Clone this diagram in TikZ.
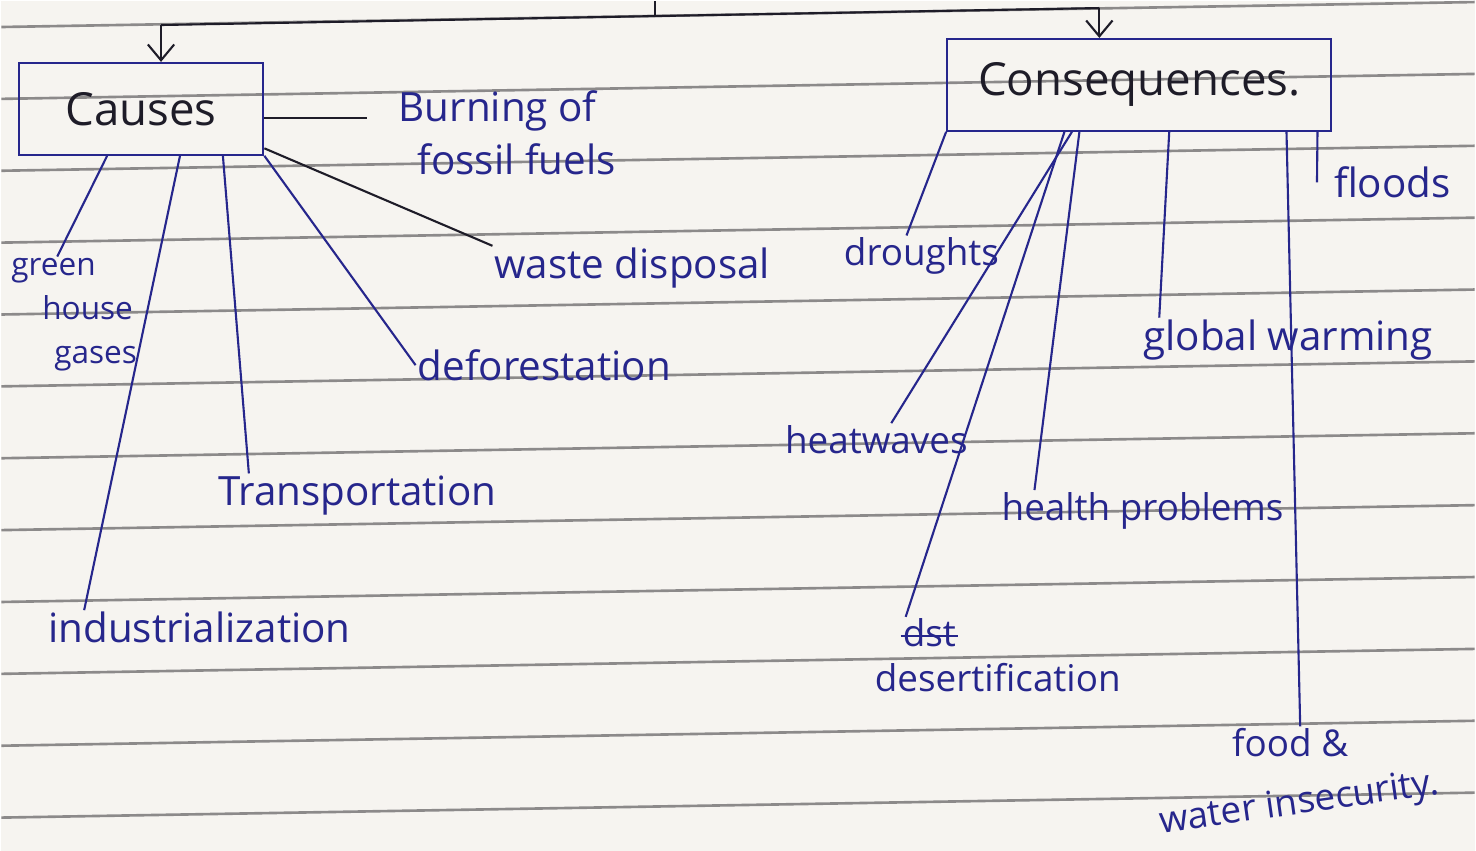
\documentclass[tikz,border=0pt]{standalone}
\usepackage{fontspec}
\setmainfont{Open Sans}
\usetikzlibrary{arrows.meta}

\definecolor{ink}{RGB}{38,38,140}
\definecolor{pencil}{RGB}{30,28,40}
\definecolor{paper}{RGB}{246,244,240}
\definecolor{ruling}{RGB}{140,138,138}

\begin{document}
\begin{tikzpicture}[x=0.02cm, y=-0.02cm,
  pen/.style={ink, line width=1.2pt},
  lead/.style={pencil, line width=1.2pt},
  downarrow/.style={lead, -{Straight Barb[length=9pt, width=15pt]}},
  title/.style={draw=ink, line width=1.2pt, text=pencil, inner sep=0pt,
    minimum width=4.9cm, minimum height=1.84cm, font=\fontsize{26}{30}\selectfont},
  item/.style={text=ink, inner sep=1pt, anchor=base west, font=\fontsize{23}{30}\selectfont},
  tight/.style={item, font=\fontsize{21}{30}\selectfont},
  multi/.style={item, anchor=north west, align=left},
  ]
  % the ruled page
  \fill[paper] (0,0) rectangle (1476,851);
  \foreach \k in {0,...,11} {
    \draw[ruling, line width=1.5pt] (0,{26+72*\k}) -- (1476,{1+72*\k});
  }

  % the two headings and the line that feeds them
  \node[title] (causes) at (140,108) {Causes};
  \node[title, minimum width=7.7cm] (conseq) at (1140,84) {Consequences.};
  \coordinate (stub) at (655,0);
  \coordinate (joint) at (655,15);
  \coordinate (cl) at (160,24);
  \coordinate (cr) at (1100,7);
  \draw[lead] (stub) -- (joint);
  \draw[lead] (cl) -- (cr);
  \draw[downarrow] (cl) -- (cl |- causes.north);
  \draw[downarrow] (cr) -- (cr |- conseq.north);

  % causes
  \node[multi] (burn) at (396,88) {Burning of\\\hspace*{0.38cm}fossil fuels};
  \node[item] (waste) at (492,278) {waste disposal};
  \node[item] (defor) at (415,380) {deforestation};
  \node[item] (transp) at (215,505) {Transportation};
  \node[item] (indus) at (45,643) {industrialization};
  \node[multi, font=\fontsize{18}{25}\selectfont] (ghg) at (8,256)
    {green\\\hspace*{0.62cm}house\\\hspace*{0.86cm}gases};
  \coordinate (burnend) at (366,117);
  \draw[lead] (causes.east |- burnend) -- (burnend);
  \draw[lead] ([yshift=0.15cm]causes.south east) -- (waste.north west);
  \draw[pen] (causes.south east) -- (defor.west);
  \draw[pen] ([xshift=1.64cm]causes.south) -- ([xshift=0.66cm]transp.north west);
  \draw[pen] ([xshift=0.78cm]causes.south) -- ([xshift=0.76cm]indus.north west);
  \draw[pen] ([xshift=-0.68cm]causes.south) -- ([xshift=0.96cm]ghg.north west);

  % consequences
  \node[tight] (drought) at (842,265) {droughts};
  \node[item] (floods) at (1333,197) {floods};
  \node[item] (gw) at (1142,350) {global warming};
  \node[tight] (heat) at (783,453) {heatwaves};
  \node[tight] (health) at (1000,520) {health problems};
  \node[tight] (dst) at (901,647) {dst};
  \node[tight] (desert) at (873,692) {desertification};
  \node[tight] (food) at (1231,757) {food \&};
  \node[tight, rotate=8] (water) at (1160,834) {water insecurity.};
  \draw[pen] ([yshift=-0.05cm]dst.west) -- ([yshift=-0.05cm]dst.east); % crossed out
  \draw[pen] (conseq.south west) -- ([xshift=-0.3cm]drought.north);
  \draw[pen] ([xshift=-0.3cm]conseq.south east) -- ([xshift=-0.3cm]floods.west);
  \draw[pen] ([xshift=0.6cm]conseq.south) -- ([xshift=0.36cm]gw.north west);
  \draw[pen] ([xshift=2.95cm]conseq.south) -- ([xshift=0.2cm]food.north);
  \draw[pen] ([xshift=-1.35cm]conseq.south) -- ([xshift=0.3cm]heat.north);
  \draw[pen] ([xshift=-1.5cm]conseq.south) -- ([xshift=0.1cm]dst.north west);
  \draw[pen] ([xshift=-1.2cm]conseq.south) -- ([xshift=0.7cm]health.north west);
\end{tikzpicture}
\end{document}
